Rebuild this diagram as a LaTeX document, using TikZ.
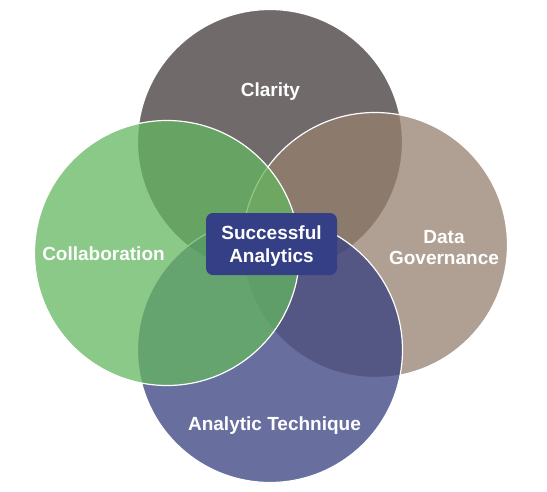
\documentclass[tikz,border=0pt]{standalone}
\usepackage{fontspec}
\setmainfont{Liberation Sans}
\definecolor{topgray}{RGB}{112,106,107}
\definecolor{righttan}{RGB}{150,128,111}
\definecolor{botblue}{RGB}{54,64,128}
\definecolor{leftgreen}{RGB}{100,183,95}
\definecolor{boxblue}{RGB}{53,63,134}
\begin{document}
\begin{tikzpicture}[x=1pt,y=-1pt,
  ring/.style={circle, minimum size=265pt, inner sep=0pt, outer sep=0pt,
    draw=white, line width=1.2pt, fill opacity=0.75},
  lbl/.style={text=white, font=\bfseries\fontsize{19}{22}\selectfont,
    inner sep=0pt, anchor=base}]
\useasboundingbox (0,0) rectangle (547,491);
\fill[white] (0,0) rectangle (547,491);
\node[ring, fill=topgray, fill opacity=1] (ctop) at (270,142) {};
\node[ring, fill=righttan] (cright) at (375,245) {};
\node[ring, fill=botblue] (cbot) at (270,350) {};
\node[ring, fill=leftgreen] (cleft) at (167,253) {};
\node[rectangle, rounded corners=7pt, fill=boxblue, minimum width=131pt,
  minimum height=62pt, inner sep=0pt] (box) at (271.5,244) {};
\node[lbl] (clarity) at (270.5,96) {Clarity};
\node[lbl] (collab) at (103.5,260) {Collaboration};
\node[lbl] (data) at (444,243) {Data};
\node[lbl] (gov) at (444,264) {Governance};
\node[lbl] (tech) at (274.5,430) {Analytic Technique};
\node[lbl] (succ) at (271.5,239) {Successful};
\node[lbl] (anal) at (271.5,262) {Analytics};
\end{tikzpicture}
\end{document}
